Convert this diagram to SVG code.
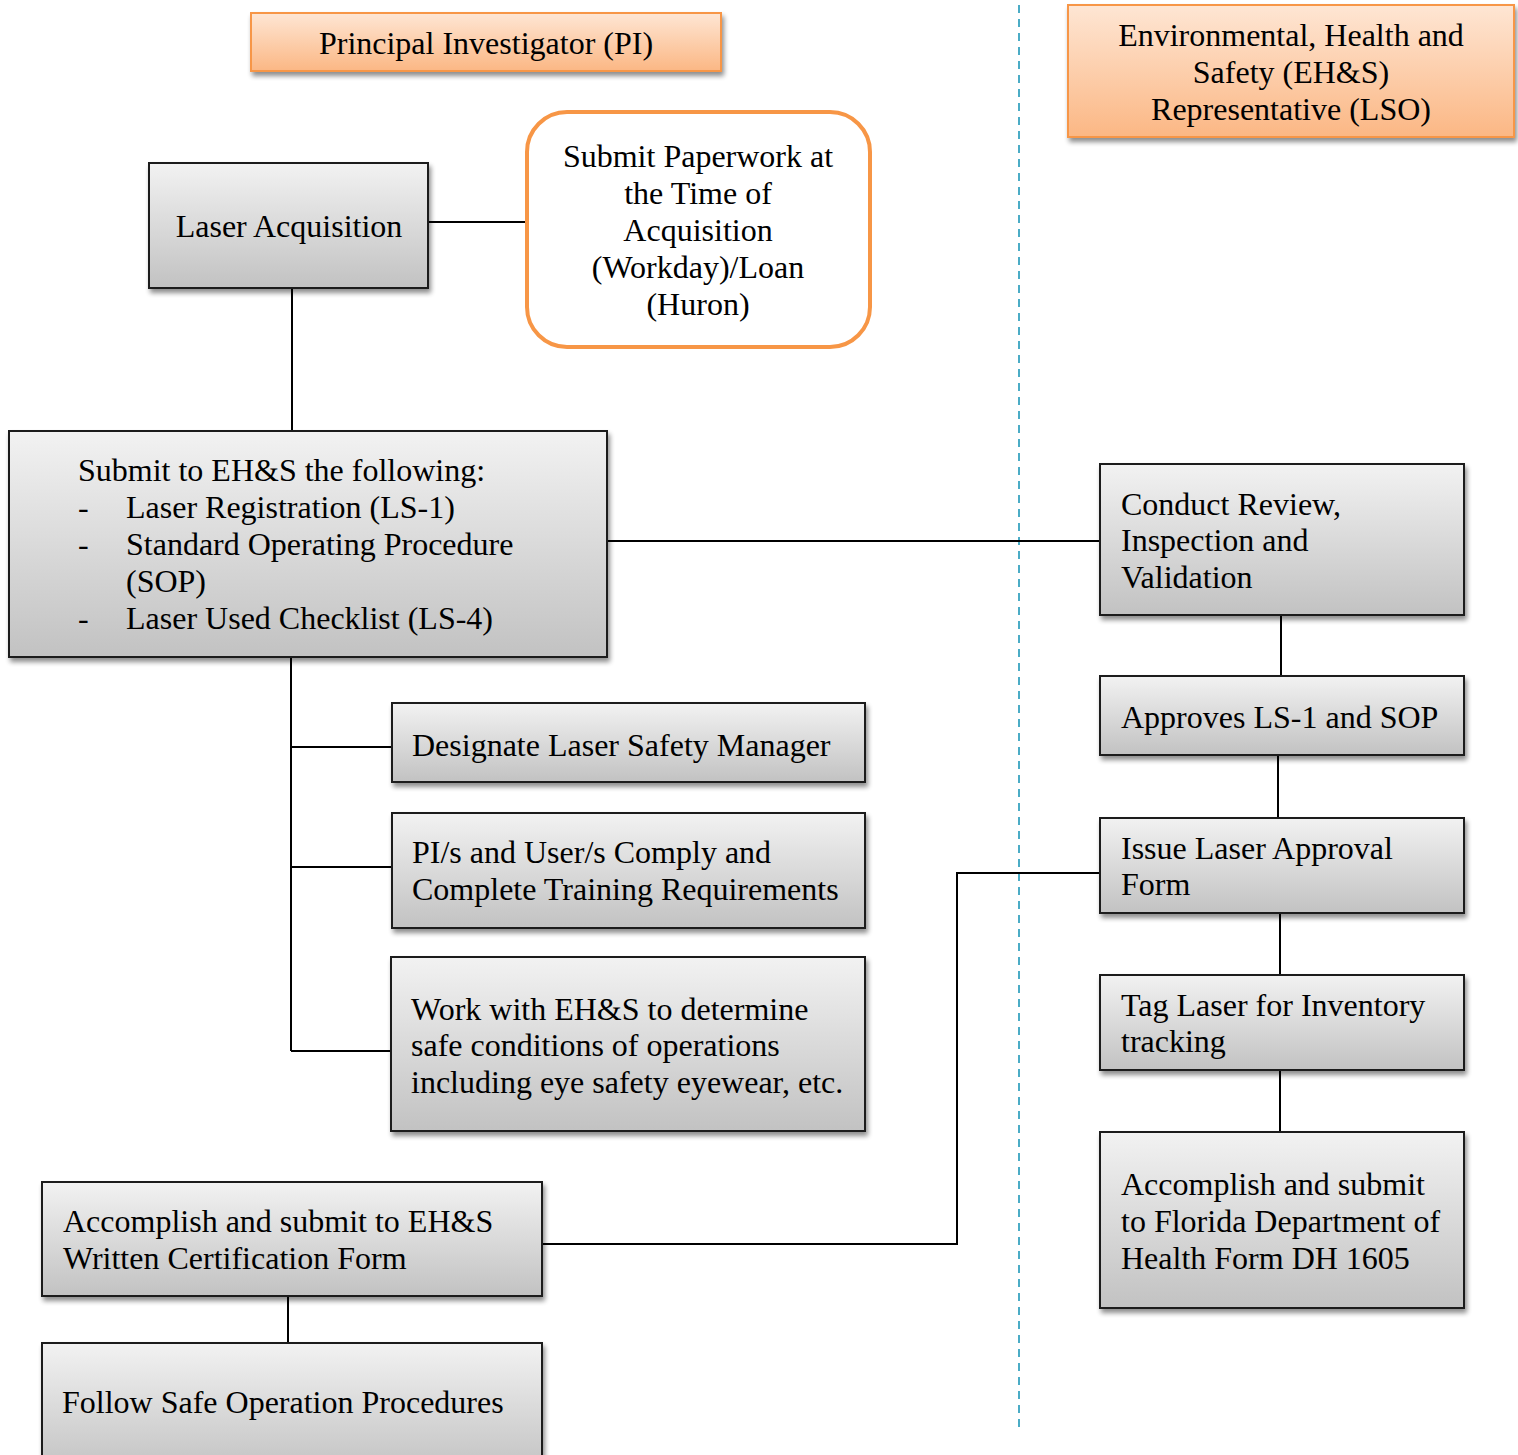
<svg xmlns="http://www.w3.org/2000/svg" width="1518" height="1455" viewBox="0 0 1518 1455">
<defs>
<linearGradient id="gray" x1="0" y1="0" x2="0" y2="1">
<stop offset="0" stop-color="#f2f2f2"/>
<stop offset="1" stop-color="#c2c2c2"/>
</linearGradient>
<linearGradient id="orange" x1="0" y1="0" x2="0" y2="1">
<stop offset="0" stop-color="#fee6d4"/>
<stop offset="1" stop-color="#fbb784"/>
</linearGradient>
<filter id="sh" x="-10%" y="-10%" width="125%" height="130%">
<feGaussianBlur in="SourceAlpha" stdDeviation="2.5"/>
<feOffset dx="2" dy="4" result="b"/>
<feComponentTransfer><feFuncA type="linear" slope="0.45"/></feComponentTransfer>
<feMerge><feMergeNode/><feMergeNode in="SourceGraphic"/></feMerge>
</filter>
</defs>
<style>
.box{fill:url(#gray);stroke:#1a1a1a;stroke-width:2;filter:url(#sh)}
.hdr{fill:url(#orange);stroke:#f79646;stroke-width:2;filter:url(#sh)}
.rnd{fill:#ffffff;stroke:#f79646;stroke-width:4}
text{font-family:"Liberation Serif","Times New Roman",serif;font-size:32px;fill:#000}
.c{text-anchor:middle}
.ln{stroke:#000;stroke-width:2;fill:none}
.dash{stroke:#4bacc6;stroke-width:2;stroke-dasharray:8 6;fill:none}
</style>
<rect width="1518" height="1455" fill="#ffffff"/>
<line class="dash" x1="1019" y1="5" x2="1019" y2="1427"/>
<g id="connectors">
<path class="ln" d="M428 222H527"/>
<path class="ln" d="M292 288V431"/>
<path class="ln" d="M607 541H1100"/>
<path class="ln" d="M291 657V1051"/>
<path class="ln" d="M291 747H392"/>
<path class="ln" d="M291 867H392"/>
<path class="ln" d="M291 1051H391"/>
<path class="ln" d="M1281 615V676"/>
<path class="ln" d="M1278 755V818"/>
<path class="ln" d="M1280 913V975"/>
<path class="ln" d="M1280 1070V1132"/>
<path class="ln" d="M1100 873H957V1244H542"/>
<path class="ln" d="M288 1296V1343"/>
</g>
<g id="pi-header">
<rect class="hdr" x="251" y="13" width="470" height="58"/>
<text class="c" x="486" y="54">Principal Investigator (PI)</text>
</g>
<g id="ehs-header">
<rect class="hdr" x="1068" y="5" width="446" height="132"/>
<text class="c" x="1291" y="46">Environmental, Health and</text>
<text class="c" x="1291" y="83">Safety (EH&amp;S)</text>
<text class="c" x="1291" y="120">Representative (LSO)</text>
</g>
<g id="laser-acquisition">
<rect class="box" x="149" y="163" width="279" height="125"/>
<text class="c" x="289" y="237">Laser Acquisition</text>
</g>
<g id="submit-paperwork">
<rect class="rnd" x="527" y="112" width="343" height="235" rx="40" ry="40"/>
<text class="c" x="698" y="167">Submit Paperwork at</text>
<text class="c" x="698" y="204">the Time of</text>
<text class="c" x="698" y="241">Acquisition</text>
<text class="c" x="698" y="278">(Workday)/Loan</text>
<text class="c" x="698" y="315">(Huron)</text>
</g>
<g id="submit-ehs">
<rect class="box" x="9" y="431" width="598" height="226"/>
<text x="78" y="481">Submit to EH&amp;S the following:</text>
<text x="78" y="518">-</text><text x="126" y="518">Laser Registration (LS-1)</text>
<text x="78" y="555">-</text><text x="126" y="555">Standard Operating Procedure</text>
<text x="126" y="592">(SOP)</text>
<text x="78" y="629">-</text><text x="126" y="629">Laser Used Checklist (LS-4)</text>
</g>
<g id="conduct-review">
<rect class="box" x="1100" y="464" width="364" height="151"/>
<text x="1121" y="515">Conduct Review,</text>
<text x="1121" y="551">Inspection and</text>
<text x="1121" y="588">Validation</text>
</g>
<g id="approves">
<rect class="box" x="1100" y="676" width="364" height="79"/>
<text x="1121" y="728">Approves LS-1 and SOP</text>
</g>
<g id="issue-approval">
<rect class="box" x="1100" y="818" width="364" height="95"/>
<text x="1121" y="859">Issue Laser Approval</text>
<text x="1121" y="895">Form</text>
</g>
<g id="tag-laser">
<rect class="box" x="1100" y="975" width="364" height="95"/>
<text x="1121" y="1016">Tag Laser for Inventory</text>
<text x="1121" y="1052">tracking</text>
</g>
<g id="florida-form">
<rect class="box" x="1100" y="1132" width="364" height="176"/>
<text x="1121" y="1195">Accomplish and submit</text>
<text x="1121" y="1232">to Florida Department of</text>
<text x="1121" y="1269">Health Form DH 1605</text>
</g>
<g id="designate">
<rect class="box" x="392" y="703" width="473" height="79"/>
<text x="412" y="756">Designate Laser Safety Manager</text>
</g>
<g id="comply-training">
<rect class="box" x="392" y="813" width="473" height="115"/>
<text x="412" y="863">PI/s and User/s Comply and</text>
<text x="412" y="900">Complete Training Requirements</text>
</g>
<g id="work-with-ehs">
<rect class="box" x="391" y="957" width="474" height="174"/>
<text x="411" y="1020">Work with EH&amp;S to determine</text>
<text x="411" y="1056">safe conditions of operations</text>
<text x="411" y="1093">including eye safety eyewear, etc.</text>
</g>
<g id="written-cert">
<rect class="box" x="42" y="1182" width="500" height="114"/>
<text x="63" y="1232">Accomplish and submit to EH&amp;S</text>
<text x="63" y="1269">Written Certification Form</text>
</g>
<g id="follow-safe">
<rect class="box" x="42" y="1343" width="500" height="130"/>
<text x="62" y="1413">Follow Safe Operation Procedures</text>
</g>
</svg>
